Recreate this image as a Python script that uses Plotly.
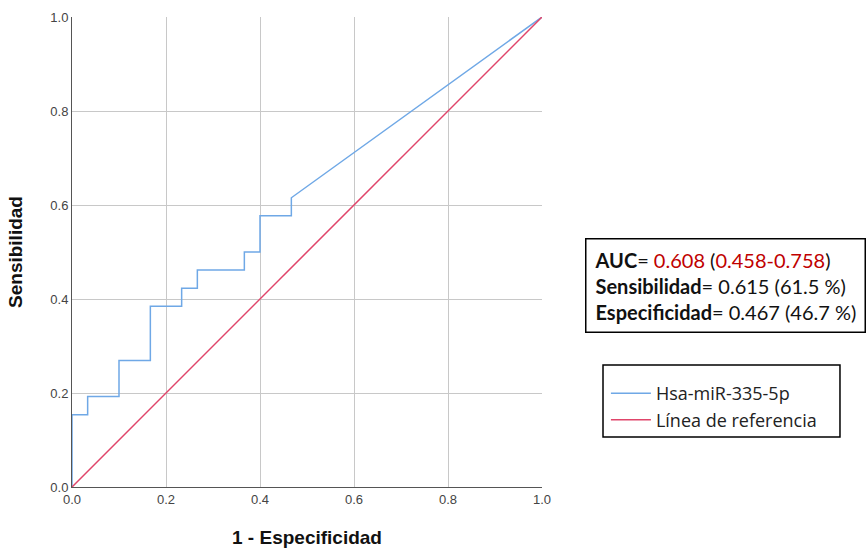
import plotly.graph_objects as go

# ROC curve data (1 - specificity, sensitivity)
fpr = [0.0, 0.0, 0.0333, 0.0333, 0.1, 0.1, 0.1667, 0.1667, 0.2333, 0.2333,
       0.2667, 0.2667, 0.3667, 0.3667, 0.4, 0.4, 0.4667, 0.4667, 1.0]
tpr = [0.0, 0.1538, 0.1538, 0.1923, 0.1923, 0.2692, 0.2692, 0.3846, 0.3846, 0.4231,
       0.4231, 0.4615, 0.4615, 0.5, 0.5, 0.5769, 0.5769, 0.6154, 1.0]
ref_x = [0.0, 1.0]
ref_y = [0.0, 1.0]
ticks = [0.0, 0.2, 0.4, 0.6, 0.8, 1.0]
tick_text = ["0.0", "0.2", "0.4", "0.6", "0.8", "1.0"]

fig = go.Figure()
fig.add_trace(go.Scatter(x=fpr, y=tpr, mode="lines", name="Hsa-miR-335-5p",
                         line=dict(color="#6fa8e6", width=1.5)))
fig.add_trace(go.Scatter(x=ref_x, y=ref_y, mode="lines", name="Línea de referencia",
                         line=dict(color="#e0456a", width=1.5)))

axis_common = dict(range=[0, 1], tickvals=ticks, ticktext=tick_text,
                   showgrid=True, gridcolor="#c8c8c8", gridwidth=1,
                   zeroline=False, showline=True, linecolor="#555555", linewidth=1,
                   tickfont=dict(family="Liberation Sans, Arial", size=13, color="#444444"),
                   ticks="", fixedrange=True, automargin=False)

fig.update_layout(
    width=868, height=548,
    margin=dict(l=72, r=326, t=17, b=61),
    paper_bgcolor="white", plot_bgcolor="white",
    xaxis=dict(**axis_common,
               title=dict(text="<b>1 - Especificidad</b>", standoff=28,
                          font=dict(family="Liberation Sans, Arial", size=19, color="#111111"))),
    yaxis=dict(**axis_common,
               title=dict(text="<b>Sensibilidad</b>", standoff=22,
                          font=dict(family="Liberation Sans, Arial", size=19, color="#111111"))),
    showlegend=True,
    legend=dict(x=1.136, y=0.238, xanchor="left", yanchor="top",
                borderwidth=0, bgcolor="rgba(0,0,0,0)",
                font=dict(family="Open Sans, Lato", size=18, color="#222222"),
                tracegroupgap=0, itemwidth=40),
    shapes=[dict(type="rect", xref="paper", yref="paper",
                 x0=1.1298, x1=1.634, y0=0.1064, y1=0.2596,
                 line=dict(color="black", width=1.5), fillcolor="rgba(0,0,0,0)", layer="below")],
    annotations=[dict(
        xref="paper", yref="paper", x=1.091, y=0.530, xanchor="left", yanchor="top",
        align="left", showarrow=False,
        text=("<b>AUC</b>= <span style='color:#c00000'>0.608</span> (<span style='color:#c00000'>0.458-0.758</span>)<br>"
              "<b>Sensibilidad</b>= 0.615 (61.5 %)<br>"
              "<b>Especificidad</b>= 0.467 (46.7 %)"),
        font=dict(family="Lato, Open Sans", size=20, color="#111111"),
        bordercolor="black", borderwidth=1.5, borderpad=8, bgcolor="white")],
)

fig.write_html("out.html")
